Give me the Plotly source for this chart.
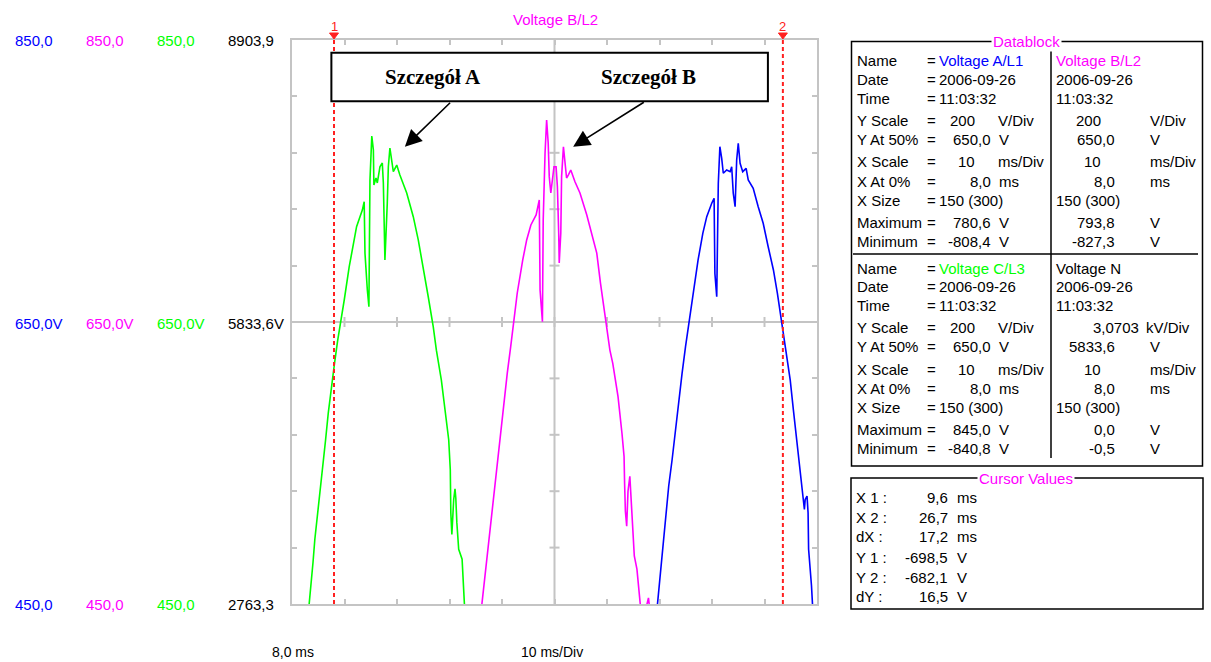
import plotly.graph_objects as go

W, H = 1211, 662

# ---- scope window: time (ms) and channel scale (V) ----
x_start, x_end = 8.0, 28.0
y_low, y_high = 450.0, 850.0
x_center, y_center = 18.0, 650.0
x_ticks = [8, 10, 12, 14, 16, 18, 20, 22, 24, 26, 28]
y_ticks = [450, 490, 530, 570, 610, 650, 690, 730, 770, 810, 850]

# ---- Voltage C/L3 (green) ----
c_t = [8.65, 8.72, 8.80, 8.87, 8.97, 9.07, 9.19, 9.28, 9.38, 9.50, 9.62, 9.74, 9.86, 9.99,
       10.18, 10.34, 10.46, 10.59, 10.68, 10.75, 10.78, 10.87, 10.93, 10.97, 11.04, 11.10,
       11.12, 11.20, 11.25, 11.35, 11.44, 11.48, 11.54, 11.63, 11.67, 11.73, 11.80, 11.86,
       11.99, 12.11, 12.37, 12.62, 12.81, 13.00, 13.19, 13.38, 13.50, 13.69, 13.86, 13.97,
       14.03, 14.05, 14.09, 14.16, 14.21, 14.24, 14.28, 14.35, 14.48, 14.53, 14.57]
c_v = [449.3, 461.8, 479.4, 495.9, 512.3, 531.1, 550.0, 566.5, 585.2, 604.1, 620.6, 637.0,
       649.5, 665.6, 689.2, 706.0, 717.6, 724.7, 729.4, 735.3, 698.9, 672.7, 660.9, 750.7,
       781.9, 772.0, 747.2, 752.1, 748.6, 760.1, 762.8, 748.6, 694.0, 734.4, 760.1, 773.4,
       762.8, 756.6, 761.3, 754.3, 741.5, 724.7, 708.2, 689.2, 667.9, 646.7, 630.0, 608.8,
       582.9, 566.5, 545.2, 514.7, 499.4, 524.1, 531.6, 525.2, 507.7, 488.8, 481.8, 460.6,
       449.3]

# ---- Voltage B/L2 (magenta) ----
b_t = [15.23, 15.35, 15.47, 15.60, 15.70, 15.81, 15.94, 16.07, 16.20, 16.33, 16.43, 16.58,
       16.79, 16.94, 17.10, 17.30, 17.42, 17.45, 17.54, 17.57, 17.64, 17.70, 17.76, 17.80,
       17.86, 17.92, 17.98, 18.06, 18.11, 18.16, 18.18, 18.24, 18.27, 18.34, 18.40, 18.46,
       18.53, 18.62, 18.78, 18.97, 19.23, 19.42, 19.61, 19.75, 19.96, 20.11, 20.22, 20.42,
       20.57, 20.65, 20.67, 20.70, 20.75, 20.80, 20.87, 20.91, 20.96, 21.04, 21.14, 21.23,
       21.27, 21.45, 21.58, 21.64]
b_v = [449.3, 470.0, 491.1, 512.3, 531.1, 550.0, 571.1, 592.3, 613.5, 632.3, 649.5, 670.4,
       694.0, 708.2, 718.8, 725.9, 736.5, 672.7, 650.2, 722.3, 769.9, 793.3, 777.0, 753.1,
       741.5, 753.1, 760.1, 760.1, 746.0, 713.1, 691.8, 713.1, 753.1, 774.3, 762.8, 752.1,
       754.3, 757.8, 749.5, 741.5, 725.9, 713.1, 698.9, 677.7, 651.4, 630.1, 620.6, 597.0,
       571.1, 554.7, 535.8, 515.9, 505.2, 530.0, 540.6, 526.5, 502.9, 484.1, 474.7, 455.9,
       449.3, 444.3, 454.3, 444.3]

# ---- Voltage A/L1 (blue) ----
a_t = [21.92, 22.03, 22.13, 22.24, 22.35, 22.48, 22.61, 22.71, 22.86, 22.99, 23.12, 23.27,
       23.47, 23.65, 23.80, 23.99, 24.08, 24.11, 24.18, 24.24, 24.30, 24.37, 24.43, 24.56,
       24.69, 24.75, 24.81, 24.88, 24.94, 25.00, 25.07, 25.17, 25.30, 25.38, 25.57, 25.76,
       25.95, 26.14, 26.34, 26.49, 26.62, 26.72, 26.82, 26.98, 27.10, 27.21, 27.34, 27.43,
       27.52, 27.55, 27.62, 27.66, 27.68, 27.79, 27.83]
a_v = [449.3, 472.3, 491.1, 512.3, 533.5, 552.3, 573.5, 592.3, 613.5, 632.3, 649.5, 670.4,
       694.0, 712.9, 724.7, 734.2, 737.7, 684.5, 667.9, 748.4, 774.3, 766.1, 755.5, 757.8,
       756.6, 760.1, 741.3, 731.8, 764.9, 776.7, 762.6, 756.6, 759.0, 750.7, 744.8, 731.8,
       720.0, 703.4, 686.9, 670.4, 653.8, 642.0, 631.3, 608.8, 587.7, 568.8, 550.0, 533.5,
       517.0, 524.1, 526.5, 514.7, 488.8, 462.9, 449.3]

# ---- cursors ----
cursor_x = [9.6, 26.7]
cursor_names = ["1", "2"]

# ---- left scale labels (A, B, C, N) ----
scale_colors = ["#0000ff", "#ff00ff", "#00ff00", "#000000"]
scale_top = ["850,0", "850,0", "850,0", "8903,9"]
scale_mid = ["650,0V", "650,0V", "650,0V", "5833,6V"]
scale_bot = ["450,0", "450,0", "450,0", "2763,3"]

# ---- datablock contents ----
db_labels = ["Name", "Date", "Time", "Y Scale", "Y At 50%", "X Scale", "X At 0%",
             "X Size", "Maximum", "Minimum"]
db_channels = [
    dict(name="Voltage A/L1", color="#0000ff", date="2006-09-26", time="11:03:32",
         yscale="200", yunit="V/Div", y50="650,0", xscale="10", x0="8,0",
         xsize="150 (300)", vmax="780,6", vmin="-808,4"),
    dict(name="Voltage B/L2", color="#ff00ff", date="2006-09-26", time="11:03:32",
         yscale="200", yunit="V/Div", y50="650,0", xscale="10", x0="8,0",
         xsize="150 (300)", vmax="793,8", vmin="-827,3"),
    dict(name="Voltage C/L3", color="#00ff00", date="2006-09-26", time="11:03:32",
         yscale="200", yunit="V/Div", y50="650,0", xscale="10", x0="8,0",
         xsize="150 (300)", vmax="845,0", vmin="-840,8"),
    dict(name="Voltage N", color="#000000", date="2006-09-26", time="11:03:32",
         yscale="3,0703", yunit="kV/Div", y50="5833,6", xscale="10", x0="8,0",
         xsize="150 (300)", vmax="0,0", vmin="-0,5"),
]

# ---- cursor values ----
cv_labels = ["X 1 :", "X 2 :", "dX :", "Y 1 :", "Y 2 :", "dY :"]
cv_values = ["9,6", "26,7", "17,2", "-698,5", "-682,1", "16,5"]
cv_units = ["ms", "ms", "ms", "V", "V", "V"]

SANS = "Liberation Sans, Arial, sans-serif"
SERIF = "Liberation Serif, Times New Roman, serif"
GRID = "#c4c4c4"
CURSOR = "#ff2020"
FS = 15

X_DOMAIN = [292 / W, 817 / W]
Y_DOMAIN = [1 - 604 / H, 1 - 40 / H]


def px(x):
    return x / W


def py(y):
    return 1 - y / H


def x_to_paper(v):
    # same linear mapping the x axis uses over its domain
    return X_DOMAIN[0] + (v - x_start) / (x_end - x_start) * (X_DOMAIN[1] - X_DOMAIN[0])


annotations = []
shapes = []


def text(x, y, s, color="#000000", anchor="left", size=FS, family=SANS, **kw):
    annotations.append(dict(
        xref="paper", yref="paper", x=px(x), y=py(y), text=s, showarrow=False,
        xanchor=anchor, yanchor="middle", font=dict(family=family, size=size, color=color),
        **kw))


def pline(x0, y0, x1, y1, color="#000000", width=1.5):
    shapes.append(dict(type="line", xref="paper", yref="paper", x0=px(x0), y0=py(y0),
                       x1=px(x1), y1=py(y1), line=dict(color=color, width=width)))


fig = go.Figure()

for t, v, col, nm in [(c_t, c_v, "#00ff00", "Voltage C/L3"),
                      (b_t, b_v, "#ff00ff", "Voltage B/L2"),
                      (a_t, a_v, "#0000ff", "Voltage A/L1")]:
    fig.add_trace(go.Scatter(x=t, y=v, mode="lines", name=nm,
                             line=dict(color=col, width=1.6), hoverinfo="skip"))

# centre cross of the graticule with its small ticks
shapes.append(dict(type="line", xref="x", yref="y", x0=x_center, x1=x_center,
                   y0=y_low, y1=y_high, line=dict(color=GRID, width=2), layer="below"))
shapes.append(dict(type="line", xref="x", yref="y", x0=x_start, x1=x_end,
                   y0=y_center, y1=y_center, line=dict(color=GRID, width=2), layer="below"))
for xt in x_ticks[1:-1]:
    shapes.append(dict(type="line", xref="x", yref="y", ysizemode="pixel", yanchor=y_center,
                       x0=xt, x1=xt, y0=-5, y1=5, line=dict(color=GRID, width=2),
                       layer="below"))
for yt in y_ticks[1:-1]:
    shapes.append(dict(type="line", xref="x", yref="y", xsizemode="pixel", xanchor=x_center,
                       y0=yt, y1=yt, x0=-5, x1=5, line=dict(color=GRID, width=2),
                       layer="below"))

# cursors: dashed line, marker triangle and number above the graticule
for cx, cn in zip(cursor_x, cursor_names):
    shapes.append(dict(type="line", xref="x", yref="y", x0=cx, x1=cx, y0=y_low, y1=y_high,
                       line=dict(color=CURSOR, width=2, dash="4px,3px")))
    xp = x_to_paper(cx)
    half = 4.5 / W
    shapes.append(dict(type="path", xref="paper", yref="paper",
                       path=f"M{xp - half},{py(33)} L{xp + half},{py(33)} L{xp},{py(39)} Z",
                       fillcolor=CURSOR, line=dict(color=CURSOR, width=1)))
    annotations.append(dict(xref="paper", yref="paper", x=xp, y=py(26.5), text=cn,
                            showarrow=False, xanchor="center", yanchor="middle",
                            font=dict(family=SANS, size=13, color=CURSOR)))

# detail callout box with arrows
shapes.append(dict(type="rect", xref="x", yref="y", x0=9.50, x1=26.13, y0=806.5, y1=841.0,
                   fillcolor="white", line=dict(color="#000000", width=2), layer="above"))
annotations.append(dict(xref="x", yref="y", x=13.37, y=823.8, text="<b>Szczegół A</b>",
                        showarrow=False, font=dict(family=SERIF, size=21, color="#000000")))
annotations.append(dict(xref="x", yref="y", x=21.58, y=823.8, text="<b>Szczegół B</b>",
                        showarrow=False, font=dict(family=SERIF, size=21, color="#000000")))
for tip, tail in [((12.30, 774.3), (14.08, 806.5)), ((18.71, 774.3), (21.46, 806.5))]:
    annotations.append(dict(xref="x", yref="y", axref="x", ayref="y", x=tip[0], y=tip[1],
                            ax=tail[0], ay=tail[1], text="", showarrow=True, arrowhead=2,
                            arrowsize=2.1, arrowwidth=1.6, arrowcolor="#000000", standoff=0))

# channel title
text(555.5, 20, "Voltage B/L2", "#ff00ff", anchor="center")

# left scale labels
for col_x, color, a, b, c in zip([12.5, 83.5, 154.5, 225.5], scale_colors,
                                 scale_top, scale_mid, scale_bot):
    text(col_x, 40.5, a, color)
    text(col_x, 323, b, color)
    text(col_x, 604, c, color)

# bottom labels
text(270, 652, "8,0 ms", size=14)
text(519, 652, "10 ms/Div", size=14)

# datablock frame
shapes.append(dict(type="rect", xref="paper", yref="paper", x0=px(851.5), x1=px(1202.5),
                   y0=py(466), y1=py(41.5), line=dict(color="#000000", width=1.5)))
pline(1051, 41.5, 1051, 458)
pline(853, 254, 1198, 254)
text(1026, 41.5, "Datablock", "#ff00ff", anchor="center", bgcolor="white", borderpad=1)

rows_top = [60.5, 79.5, 98.5, 120.5, 139.5, 161.5, 181, 200.5, 222.5, 241]
rows_bot = [268, 286.5, 305, 327.5, 346.5, 369, 388, 407, 429.5, 448.5]

for rows, left, right in [(rows_top, db_channels[0], db_channels[1]),
                          (rows_bot, db_channels[2], db_channels[3])]:
    for lab, y in zip(db_labels, rows):
        text(855, y, lab)
        text(925, y, "=")
    # first column
    text(937, rows[0], left["name"], left["color"])
    text(937, rows[1], left["date"])
    text(937, rows[2], left["time"])
    text(977, rows[3], left["yscale"], anchor="right")
    text(996, rows[3], left["yunit"])
    text(993, rows[4], left["y50"], anchor="right")
    text(997, rows[4], "V")
    text(977, rows[5], left["xscale"], anchor="right")
    text(996, rows[5], "ms/Div")
    text(993, rows[6], left["x0"], anchor="right")
    text(997, rows[6], "ms")
    text(937, rows[7], left["xsize"])
    text(993, rows[8], left["vmax"], anchor="right")
    text(997, rows[8], "V")
    text(993, rows[9], left["vmin"], anchor="right")
    text(997, rows[9], "V")
    # second column
    text(1054, rows[0], right["name"], right["color"])
    text(1054, rows[1], right["date"])
    text(1054, rows[2], right["time"])
    if right["yunit"] == "V/Div":
        text(1103, rows[3], right["yscale"], anchor="right")
        text(1148, rows[3], right["yunit"])
    else:
        text(1141, rows[3], right["yscale"], anchor="right")
        text(1144, rows[3], right["yunit"])
    text(1117, rows[4], right["y50"], anchor="right")
    text(1148, rows[4], "V")
    text(1103, rows[5], right["xscale"], anchor="right")
    text(1148, rows[5], "ms/Div")
    text(1117, rows[6], right["x0"], anchor="right")
    text(1148, rows[6], "ms")
    text(1054, rows[7], right["xsize"])
    text(1117, rows[8], right["vmax"], anchor="right")
    text(1148, rows[8], "V")
    text(1117, rows[9], right["vmin"], anchor="right")
    text(1148, rows[9], "V")

# cursor values frame
shapes.append(dict(type="rect", xref="paper", yref="paper", x0=px(851), x1=px(1203),
                   y0=py(609), y1=py(478), line=dict(color="#000000", width=1.5)))
text(1026, 478, "Cursor Values", "#ff00ff", anchor="center", bgcolor="white", borderpad=1)
for lab, val, unit, y in zip(cv_labels, cv_values, cv_units,
                             [498, 517, 536, 557, 577, 596]):
    text(854, y, lab)
    text(950, y, val, anchor="right")
    text(955, y, unit)

fig.update_layout(
    width=W, height=H, margin=dict(l=0, r=0, t=0, b=0, pad=0),
    paper_bgcolor="white", plot_bgcolor="white", showlegend=False,
    xaxis=dict(domain=X_DOMAIN, range=[x_start, x_end], showgrid=False,
               zeroline=False, showline=True, linecolor=GRID, linewidth=2, mirror="ticks",
               ticks="inside", ticklen=5, tickwidth=2, tickcolor=GRID, tickvals=x_ticks,
               showticklabels=False, fixedrange=True),
    yaxis=dict(domain=Y_DOMAIN, range=[y_low, y_high], showgrid=False,
               zeroline=False, showline=True, linecolor=GRID, linewidth=2, mirror="ticks",
               ticks="inside", ticklen=5, tickwidth=2, tickcolor=GRID, tickvals=y_ticks,
               showticklabels=False, fixedrange=True),
    shapes=shapes, annotations=annotations,
)

fig.write_html("out.html", config={"displayModeBar": False})
